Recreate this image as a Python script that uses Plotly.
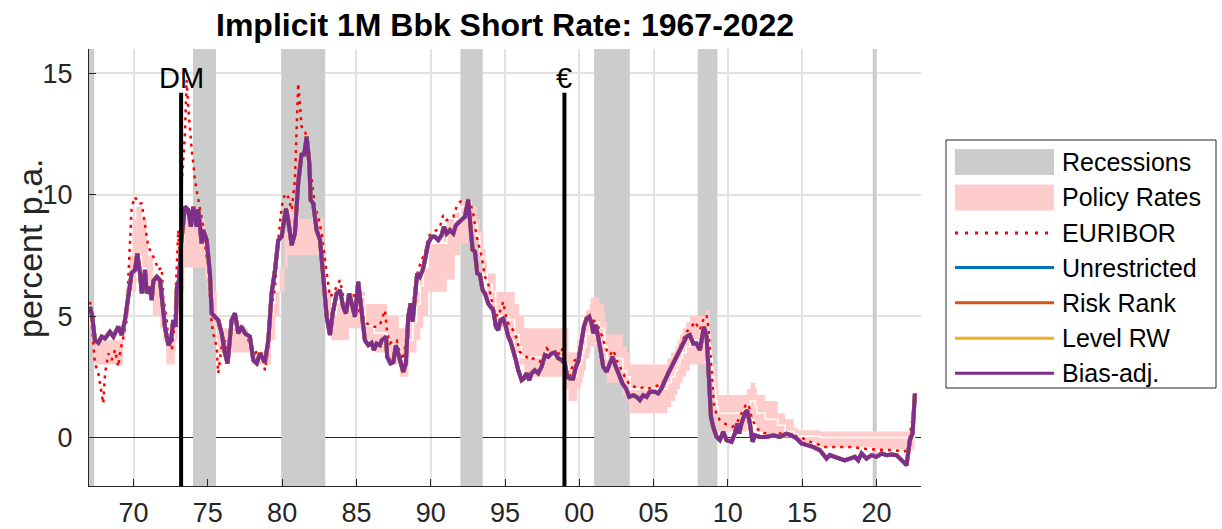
import plotly.graph_objects as go

# ---------------- data ----------------
bias_years = [1967.07, 1967.22, 1967.40, 1967.63, 1967.85, 1968.08, 1968.41, 1968.64, 1968.97, 1969.20,
              1969.42, 1969.64, 1969.87, 1970.10, 1970.25, 1970.43, 1970.55, 1970.77, 1970.88, 1971.10,
              1971.22, 1971.33, 1971.56, 1971.78, 1971.93, 1972.11, 1972.34, 1972.52, 1972.67, 1972.83,
              1972.92, 1973.06, 1973.20, 1973.46, 1973.68, 1973.86, 1974.02, 1974.25, 1974.36, 1974.58,
              1974.69, 1974.92, 1975.14, 1975.26, 1975.48, 1975.70, 1975.93, 1976.15, 1976.33, 1976.60,
              1976.82, 1977.05, 1977.28, 1977.50, 1977.83, 1978.06, 1978.29, 1978.51, 1978.84, 1979.07,
              1979.29, 1979.52, 1979.74, 1979.97, 1980.26, 1980.41, 1980.64, 1980.86, 1981.08, 1981.31,
              1981.47, 1981.65, 1981.83, 1981.92, 1982.09, 1982.32, 1982.55, 1982.77, 1983.00, 1983.22,
              1983.40, 1983.67, 1983.89, 1984.11, 1984.29, 1984.52, 1984.68, 1984.90, 1985.12, 1985.35,
              1985.57, 1985.80, 1986.02, 1986.18, 1986.36, 1986.58, 1986.70, 1986.99, 1987.07, 1987.30,
              1987.48, 1987.66, 1987.81, 1987.98, 1988.15, 1988.33, 1988.49, 1988.65, 1988.78, 1988.94,
              1989.09, 1989.27, 1989.46, 1989.61, 1989.83, 1990.06, 1990.28, 1990.51, 1990.73, 1990.89,
              1991.07, 1991.29, 1991.52, 1991.70, 1991.97, 1992.30, 1992.52, 1992.69, 1992.82, 1992.98,
              1993.13, 1993.31, 1993.49, 1993.65, 1993.87, 1994.03, 1994.21, 1994.39, 1994.54, 1994.70,
              1994.88, 1995.06, 1995.22, 1995.38, 1995.55, 1995.73, 1995.89, 1996.12, 1996.27, 1996.45,
              1996.63, 1996.79, 1997.01, 1997.24, 1997.46, 1997.69, 1997.91, 1998.14, 1998.36, 1998.58,
              1998.81, 1999.03, 1999.19, 1999.37, 1999.59, 1999.77, 1999.93, 2000.16, 2000.31, 2000.49,
              2000.67, 2000.83, 2000.94, 2001.12, 2001.27, 2001.43, 2001.61, 2001.84, 2002.06, 2002.24,
              2002.46, 2002.69, 2002.91, 2003.14, 2003.36, 2003.63, 2003.86, 2004.08, 2004.30, 2004.53,
              2004.75, 2005.09, 2005.31, 2005.54, 2005.76, 2005.98, 2006.21, 2006.55, 2006.88, 2007.22,
              2007.44, 2007.67, 2007.89, 2008.12, 2008.39, 2008.57, 2008.72, 2008.86, 2009.01, 2009.24,
              2009.46, 2009.69, 2009.91, 2010.25, 2010.47, 2010.63, 2010.76, 2010.92, 2011.15, 2011.30,
              2011.48, 2011.66, 2011.82, 2012.15, 2012.60, 2013.05, 2013.50, 2013.95, 2014.28, 2014.62,
              2014.96, 2015.29, 2015.74, 2016.19, 2016.64, 2016.86, 2017.20, 2017.54, 2017.87, 2018.21,
              2018.55, 2018.77, 2019.00, 2019.33, 2019.67, 2020.00, 2020.34, 2020.68, 2021.02, 2021.35,
              2021.69, 2022.03, 2022.25, 2022.43, 2022.59]
bias_vals = [5.38, 4.97, 4.00, 3.90, 4.15, 4.08, 4.35, 4.15, 4.56, 4.22,
             4.83, 5.93, 6.77, 6.90, 7.58, 6.77, 5.94, 6.90, 5.94, 6.20,
             5.66, 6.44, 6.62, 6.48, 5.52, 4.56, 3.80, 4.00, 4.83, 4.56,
             6.20, 6.48, 8.00, 9.50, 9.37, 8.68, 9.50, 8.68, 9.40, 7.99,
             8.54, 8.13, 6.76, 5.11, 4.97, 4.83, 4.29, 3.46, 3.05, 4.83,
             5.11, 4.29, 4.56, 4.29, 4.15, 3.19, 3.05, 3.46, 3.10, 4.00,
             5.93, 6.90, 8.13, 8.27, 9.43, 8.95, 7.92, 8.40, 10.47, 11.70,
             11.60, 12.39, 11.29, 9.78, 9.64, 8.54, 8.13, 6.76, 4.97, 4.22,
             5.11, 5.93, 6.07, 5.38, 5.11, 5.93, 5.52, 4.97, 6.41, 5.11,
             4.00, 3.80, 3.90, 3.60, 3.87, 3.80, 4.00, 4.15, 3.32, 3.05,
             3.10, 3.80, 3.46, 3.19, 2.70, 3.05, 4.97, 5.52, 4.76, 5.79,
             6.76, 6.62, 6.90, 7.31, 7.99, 8.27, 8.27, 8.13, 8.33, 8.68,
             8.40, 8.54, 8.40, 8.75, 8.88, 9.09, 9.78, 8.68, 7.72, 7.65,
             6.76, 6.70, 6.07, 5.93, 5.52, 5.38, 5.24, 4.56, 4.42, 4.83,
             4.90, 4.56, 4.15, 3.94, 3.60, 3.19, 2.77, 2.36, 2.43, 2.64,
             2.36, 2.64, 2.77, 2.64, 2.91, 3.39, 3.32, 3.46, 3.50, 3.26,
             3.19, 3.05, 2.50, 2.43, 2.43, 2.91, 3.12, 3.87, 4.56, 4.90,
             4.97, 4.70, 4.29, 4.63, 4.22, 3.60, 2.91, 2.70, 3.05, 3.32,
             2.91, 2.50, 2.22, 2.02, 1.67, 1.74, 1.67, 1.54, 1.74, 1.67,
             1.88, 1.88, 1.81, 2.02, 2.36, 2.64, 2.91, 3.32, 3.73, 4.15,
             4.22, 3.87, 3.87, 3.60, 4.56, 4.15, 2.50, 0.85, 0.44, 0.02,
             -0.11, 0.23, -0.11, -0.18, 0.16, 0.58, 0.16, 0.58, 0.99, 1.12,
             0.58, -0.18, 0.09, 0.02, 0.02, 0.09, 0.02, 0.16, 0.09, -0.04,
             -0.25, -0.30, -0.39, -0.52, -0.87, -0.73, -0.80, -0.87, -0.94, -0.87,
             -0.80, -0.94, -0.66, -0.87, -0.73, -0.80, -0.66, -0.73, -0.70, -0.73,
             -0.94, -1.14, -0.11, 0.16, 1.81]

# the three other model variants lie underneath the bias-adjusted line
unrestricted_vals = list(bias_vals)
risk_rank_vals = list(bias_vals)
level_rw_vals = list(bias_vals)

euribor_years = [1967.07, 1967.29, 1967.40, 1967.63, 1967.74, 1967.96, 1968.08, 1968.30, 1968.53, 1968.75,
                 1968.97, 1969.08, 1969.31, 1969.54, 1969.64, 1969.87, 1970.10, 1970.32, 1970.55, 1970.77,
                 1970.99, 1971.22, 1971.44, 1971.66, 1971.89, 1972.00, 1972.23, 1972.34, 1972.57, 1972.74,
                 1972.90, 1973.01, 1973.12, 1973.25, 1973.46, 1973.57, 1973.68, 1973.79, 1973.91, 1974.02,
                 1974.13, 1974.36, 1974.54, 1974.69, 1974.85, 1975.03, 1975.21, 1975.36, 1975.59, 1975.70,
                 1975.93, 1976.15, 1976.37, 1976.60, 1976.82, 1977.05, 1977.28, 1977.50, 1977.72, 1977.95,
                 1978.17, 1978.39, 1978.62, 1978.84, 1979.07, 1979.29, 1979.52, 1979.74, 1979.97, 1980.19,
                 1980.41, 1980.64, 1980.86, 1981.08, 1981.19, 1981.31, 1981.54, 1981.76, 1981.99, 1982.21,
                 1982.43, 1982.66, 1982.88, 1983.04, 1983.22, 1983.44, 1983.67, 1983.89, 1984.11, 1984.34,
                 1984.56, 1984.78, 1985.01, 1985.24, 1985.46, 1985.69, 1985.91, 1986.13, 1986.36, 1986.58,
                 1986.92, 1987.07, 1987.26, 1987.48, 1987.71, 1987.93, 1988.15, 1988.33, 1988.49, 1988.72,
                 1988.94, 1989.16, 1989.39, 1989.61, 1989.83, 1990.06, 1990.40, 1990.62, 1990.84, 1991.07,
                 1991.29, 1991.52, 1991.74, 1991.97, 1992.30, 1992.52, 1992.69, 1992.86, 1993.09, 1993.43,
                 1993.65, 1993.87, 1994.10, 1994.32, 1994.54, 1994.88, 1995.11, 1995.33, 1995.55, 1995.78,
                 1996.00, 1996.23, 1996.45, 1996.68, 1996.90, 1997.13, 1997.35, 1997.57, 1997.80, 1998.02,
                 1998.25, 1998.47, 1998.70, 1998.87, 1999.15, 1999.37, 1999.59, 1999.82, 2000.04, 2000.26,
                 2000.49, 2000.71, 2000.94, 2001.16, 2001.39, 2001.61, 2001.84, 2002.06, 2002.29, 2002.51,
                 2002.73, 2003.07, 2003.40, 2003.74, 2004.08, 2004.42, 2004.75, 2005.09, 2005.54, 2005.88,
                 2006.21, 2006.55, 2006.88, 2007.22, 2007.56, 2007.78, 2008.12, 2008.34, 2008.57, 2008.68,
                 2008.84, 2008.95, 2009.06, 2009.24, 2009.46, 2009.73, 2010.02, 2010.32, 2010.59, 2010.81,
                 2011.03, 2011.26, 2011.43, 2011.59, 2011.82, 2012.15, 2012.60, 2013.05, 2013.50, 2013.95,
                 2014.40, 2014.73, 2015.07, 2015.52, 2015.97, 2016.41, 2017.09, 2017.76, 2018.43, 2019.10,
                 2019.78, 2020.45, 2021.12, 2021.80, 2022.14, 2022.36, 2022.59]
euribor_vals = [5.59, 4.00, 3.05, 2.64, 2.23, 1.40, 2.64, 3.46, 3.19, 3.60,
                2.91, 3.46, 4.15, 4.83, 6.48, 9.50, 9.91, 9.64, 9.64, 8.68,
                7.85, 7.58, 7.31, 6.90, 7.00, 5.79, 4.83, 4.00, 3.60, 4.56,
                7.31, 8.54, 7.00, 10.50, 12.53, 14.72, 13.62, 12.53, 11.84, 11.29,
                10.60, 9.78, 9.23, 8.68, 7.72, 7.04, 4.97, 4.29, 3.73, 2.64,
                3.73, 4.00, 3.46, 4.97, 4.83, 4.70, 4.56, 4.29, 4.00, 3.73,
                3.46, 3.60, 3.46, 2.77, 3.73, 5.38, 6.20, 8.13, 9.50, 10.05,
                9.91, 9.37, 10.60, 14.59, 13.60, 12.80, 12.66, 11.84, 10.60, 9.50,
                9.09, 8.40, 7.31, 6.48, 5.79, 5.93, 6.20, 6.48, 5.79, 5.79,
                5.93, 5.93, 5.52, 5.11, 4.97, 4.70, 4.63, 4.56, 4.56, 4.63,
                5.24, 4.29, 3.87, 4.00, 4.00, 3.46, 3.19, 4.00, 5.24, 4.83,
                6.20, 6.90, 7.31, 7.58, 8.27, 8.40, 8.54, 8.68, 9.16, 8.95,
                9.02, 9.09, 9.50, 9.71, 9.78, 9.78, 9.60, 9.23, 8.27, 7.44,
                6.62, 6.35, 5.66, 5.11, 4.97, 5.59, 4.83, 4.56, 4.42, 4.08,
                3.53, 3.39, 3.32, 3.19, 3.26, 3.19, 3.12, 3.32, 3.67, 3.53,
                3.46, 3.60, 3.39, 3.67, 2.77, 2.50, 3.05, 3.30, 3.60, 4.56,
                4.90, 5.04, 4.83, 4.70, 4.42, 4.01, 3.60, 3.39, 3.60, 3.19,
                2.91, 2.50, 2.15, 2.09, 2.02, 2.09, 2.02, 2.09, 2.22, 2.50,
                2.91, 3.32, 3.87, 4.35, 4.56, 4.77, 4.42, 4.84, 5.04, 4.56,
                3.32, 2.22, 1.40, 0.92, 0.72, 0.58, 0.51, 0.44, 0.58, 0.85,
                1.12, 1.40, 1.26, 0.85, 0.51, 0.23, 0.16, 0.09, 0.16, 0.16,
                0.09, 0.02, -0.04, -0.18, -0.25, -0.39, -0.39, -0.39, -0.39, -0.46,
                -0.50, -0.52, -0.52, -0.59, -0.52, 0.58, 1.12]

# policy-rate corridor: floor (discount / deposit rate) and ceiling (Lombard / marginal lending)
policy_dates = [1967.00, 1967.13, 1967.30, 1967.38, 1969.30, 1969.46, 1969.70, 1969.93, 1970.18, 1970.55,
                1970.88, 1970.97, 1971.30, 1971.79, 1971.98, 1972.20, 1972.77, 1972.83, 1972.97, 1973.04,
                1973.34, 1973.42, 1974.82, 1974.96, 1975.10, 1975.20, 1975.40, 1975.60, 1975.70, 1977.70,
                1977.96, 1979.05, 1979.25, 1979.45, 1979.54, 1979.83, 1980.16, 1980.39, 1981.15, 1982.65,
                1982.80, 1982.93, 1983.30, 1983.70, 1984.50, 1985.08, 1985.60, 1986.20, 1987.06, 1987.85,
                1987.92, 1988.50, 1988.58, 1988.93, 1989.05, 1989.30, 1989.50, 1989.83, 1990.87, 1991.08,
                1991.62, 1991.97, 1992.54, 1992.71, 1993.10, 1993.21, 1993.30, 1993.55, 1993.69, 1993.80,
                1994.13, 1994.37, 1995.24, 1995.65, 1995.96, 1996.30, 1999.00, 1999.27, 1999.85, 2000.10,
                2000.22, 2000.32, 2000.45, 2000.68, 2000.76, 2001.36, 2001.67, 2001.72, 2001.86, 2002.93,
                2003.18, 2003.43, 2005.93, 2006.19, 2006.45, 2006.61, 2006.78, 2006.95, 2007.20, 2007.45,
                2008.52, 2008.77, 2008.86, 2008.95, 2009.05, 2009.19, 2009.27, 2009.36, 2011.28, 2011.52,
                2011.85, 2011.95, 2012.52, 2013.35, 2013.85, 2014.44, 2014.69, 2015.94, 2016.21, 2019.71,
                2022.57, 2022.62]
policy_lower = [4.5, 4.0, 3.5, 3.0, 4.0, 5.0, 6.0, 6.0, 7.5, 7.0,
                6.5, 6.0, 5.0, 4.5, 4.0, 3.0, 3.5, 4.0, 4.5, 5.0,
                6.0, 7.0, 6.5, 6.0, 5.5, 5.0, 4.5, 4.0, 3.5, 3.5,
                3.0, 3.0, 4.0, 4.0, 5.0, 6.0, 7.0, 7.5, 7.5, 7.0,
                6.0, 5.0, 4.0, 4.0, 4.5, 4.5, 4.0, 3.5, 3.0, 3.0,
                2.5, 3.0, 3.5, 3.5, 4.0, 4.5, 5.0, 6.0, 6.0, 6.5,
                7.5, 8.0, 8.75, 8.25, 8.0, 7.5, 7.25, 6.75, 6.25, 5.75,
                5.25, 4.5, 4.0, 3.5, 3.0, 2.5, 2.0, 1.5, 2.0, 2.25,
                2.5, 2.75, 3.25, 3.5, 3.75, 3.5, 3.25, 2.75, 2.25, 1.75,
                1.5, 1.0, 1.25, 1.5, 1.75, 2.0, 2.25, 2.5, 2.75, 3.0,
                3.25, 3.25, 2.75, 2.0, 1.0, 0.5, 0.25, 0.25, 0.5, 0.75,
                0.5, 0.25, 0.0, 0.0, 0.0, -0.1, -0.2, -0.3, -0.4, -0.5,
                0.0, 0.0]
policy_upper = [5.5, 5.0, 4.5, 4.0, 5.0, 6.0, 7.5, 9.0, 9.5, 9.0,
                8.0, 7.5, 6.5, 5.5, 5.0, 4.0, 5.0, 6.0, 6.5, 7.0,
                8.0, 9.0, 8.5, 8.0, 7.5, 6.5, 6.0, 5.0, 4.5, 4.0,
                3.5, 4.0, 5.0, 5.5, 6.0, 7.0, 8.5, 9.5, 9.0, 9.0,
                8.0, 6.0, 5.0, 5.5, 5.5, 6.0, 5.5, 5.5, 5.0, 4.5,
                4.5, 4.5, 5.0, 5.5, 6.0, 6.5, 7.0, 8.0, 8.5, 9.0,
                9.25, 9.75, 9.75, 9.5, 9.0, 9.0, 8.5, 7.75, 7.25, 6.75,
                6.75, 6.0, 6.0, 5.5, 5.0, 4.5, 4.5, 3.5, 4.0, 4.25,
                4.5, 4.75, 5.25, 5.5, 5.75, 5.5, 5.25, 4.75, 4.25, 3.75,
                3.5, 3.0, 3.25, 3.5, 3.75, 4.0, 4.25, 4.5, 4.75, 5.0,
                5.25, 4.25, 3.75, 3.0, 3.0, 2.5, 2.25, 1.75, 2.0, 2.25,
                2.0, 1.75, 1.5, 1.0, 0.75, 0.4, 0.3, 0.3, 0.25, 0.25,
                0.75, 0.75]

# main refinancing (repo / MRO) rate, drawn as a thin white line inside the corridor
main_rate_dates = [1985.00, 1985.60, 1986.20, 1987.06, 1987.90, 1988.50, 1988.80, 1989.05, 1989.30, 1989.50,
                   1989.83, 1991.08, 1991.62, 1992.00, 1992.54, 1992.71, 1993.10, 1993.30, 1993.55, 1993.80,
                   1994.13, 1994.37, 1995.24, 1995.65, 1995.96, 1996.10, 1998.90, 1999.27, 1999.85, 2000.10,
                   2000.22, 2000.32, 2000.45, 2000.68, 2000.76, 2001.36, 2001.67, 2001.72, 2001.86, 2002.93,
                   2003.18, 2003.43, 2005.93, 2006.19, 2006.45, 2006.61, 2006.78, 2006.95, 2007.20, 2007.45,
                   2008.52, 2008.77, 2008.86, 2008.95, 2009.05, 2009.19, 2009.27, 2009.36, 2011.28, 2011.52,
                   2011.85, 2011.95, 2012.52, 2013.35, 2013.85, 2014.44, 2014.69, 2016.21, 2022.57, 2022.62]
main_rate_vals = [5.8, 4.6, 4.3, 3.8, 3.25, 4.0, 4.75, 5.5, 6.25, 7.0,
                  8.0, 8.5, 9.0, 9.5, 9.7, 8.8, 8.3, 7.5, 6.9, 6.3,
                  6.0, 5.0, 4.85, 4.25, 3.75, 3.3, 3.0, 2.5, 3.0, 3.25,
                  3.5, 3.75, 4.25, 4.5, 4.75, 4.5, 4.25, 3.75, 3.25, 2.75,
                  2.5, 2.0, 2.25, 2.5, 2.75, 3.0, 3.25, 3.5, 3.75, 4.0,
                  4.25, 3.75, 3.25, 2.5, 2.0, 1.5, 1.25, 1.0, 1.25, 1.5,
                  1.25, 1.0, 0.75, 0.5, 0.25, 0.15, 0.05, 0.0, 0.5, 0.5]

rec_start = [1967.00, 1974.00, 1979.95, 1992.00, 2001.00, 2007.97, 2019.75]
rec_end = [1967.35, 1975.55, 1982.90, 1993.50, 2003.40, 2009.30, 2020.00]

regime_dates = [1973.2, 1999.0]
regime_labels = ["DM", "€"]
regime_line_top = 14.2

x_range = [1967, 2023]
y_range = [-2, 16]
xtick_years = [1970, 1975, 1980, 1985, 1990, 1995, 2000, 2005, 2010, 2015, 2020]
xtick_labels = ["70", "75", "80", "85", "90", "95", "00", "05", "10", "15", "20"]
ytick_vals = [0, 5, 10, 15]

series_names = ["Unrestricted", "Risk Rank", "Level RW", "Bias-adj."]
series_colors = ["#0072BD", "#D95319", "#EDB120", "#7E2F8E"]

# ---------------- figure ----------------
FONT = "Liberation Sans, Arial, Helvetica, sans-serif"
W, H = 1222, 529
ML, MR, MT, MB = 89, 301, 49, 43
PW, PH = W - ML - MR, H - MT - MB

fig = go.Figure()

# recessions as filled rectangles
rx, ry = [], []
for s, e in zip(rec_start, rec_end):
    rx += [s, e, e, s, s, None]
    ry += [y_range[0], y_range[0], y_range[1], y_range[1], y_range[0], None]
fig.add_trace(go.Scatter(x=rx, y=ry, mode="lines", fill="toself", fillcolor="#CCCCCC",
                         line=dict(width=0, color="#CCCCCC"), hoverinfo="skip", showlegend=False))

# policy-rate corridor
fig.add_trace(go.Scatter(x=policy_dates, y=policy_lower, mode="lines", line_shape="hv",
                         line=dict(width=0, color="#FFCCCC"), hoverinfo="skip", showlegend=False))
fig.add_trace(go.Scatter(x=policy_dates, y=policy_upper, mode="lines", line_shape="hv",
                         line=dict(width=0, color="#FFCCCC"), fill="tonexty", fillcolor="#FFCCCC",
                         hoverinfo="skip", showlegend=False))
fig.add_trace(go.Scatter(x=main_rate_dates, y=main_rate_vals, mode="lines", line_shape="hv",
                         line=dict(width=1.5, color="white"), hoverinfo="skip", showlegend=False))

# EURIBOR
fig.add_trace(go.Scatter(x=euribor_years, y=euribor_vals, mode="lines",
                         line=dict(width=2.5, color="#FF0000", dash="3px,5px"), showlegend=False))

# model short rates
for name, vals, col in zip(series_names,
                           [unrestricted_vals, risk_rank_vals, level_rw_vals, bias_vals],
                           series_colors):
    fig.add_trace(go.Scatter(x=bias_years, y=vals, mode="lines",
                             line=dict(width=4, color=col), name=name, showlegend=False))

# regime markers (DM, euro)
for d, lab in zip(regime_dates, regime_labels):
    fig.add_trace(go.Scatter(x=[d, d], y=[y_range[0], regime_line_top], mode="lines",
                             line=dict(width=4, color="black"), hoverinfo="skip", showlegend=False))
    fig.add_annotation(x=d, y=regime_line_top, xref="x", yref="y", text=lab, showarrow=False,
                       yanchor="bottom", xanchor="center", yshift=-3,
                       font=dict(family=FONT, size=29, color="black"))

# ---------------- manual legend ----------------
def px(x):
    return (x - ML) / PW

def py(y):
    return (H - MB - y) / PH

shapes = []
shapes.append(dict(type="rect", xref="paper", yref="paper", x0=px(946), x1=px(1216),
                   y0=py(388), y1=py(140), line=dict(color="#262626", width=1), fillcolor="white",
                   layer="above"))
leg_x0, leg_x1, leg_tx = 955, 1054, 1060
leg_items = [("Recessions", "rect", "#CCCCCC", None),
             ("Policy Rates", "rect", "#FFCCCC", None),
             ("EURIBOR", "line", "#FF0000", "3px,7px"),
             ("Unrestricted", "line", series_colors[0], None),
             ("Risk Rank", "line", series_colors[1], None),
             ("Level RW", "line", series_colors[2], None),
             ("Bias-adj.", "line", series_colors[3], None)]
leg_y = [162, 197.5, 233, 267.5, 302.7, 338.3, 373.3]
for (lab, kind, col, dash), yc in zip(leg_items, leg_y):
    if kind == "rect":
        shapes.append(dict(type="rect", xref="paper", yref="paper", x0=px(leg_x0), x1=px(leg_x1),
                           y0=py(yc + 13), y1=py(yc - 13), line=dict(width=0), fillcolor=col,
                           layer="above"))
    else:
        ln = dict(color=col, width=3)
        if dash:
            ln["dash"] = dash
        shapes.append(dict(type="line", xref="paper", yref="paper", x0=px(leg_x0), x1=px(leg_x1),
                           y0=py(yc), y1=py(yc), line=ln, layer="above"))
    fig.add_annotation(x=px(leg_tx), y=py(yc), xref="paper", yref="paper", text=lab,
                       showarrow=False, xanchor="left", yanchor="middle",
                       font=dict(family=FONT, size=25, color="black"))

# y-axis label
fig.add_annotation(x=px(30), y=py(248), xref="paper", yref="paper", text="percent p.a.",
                   textangle=-90, showarrow=False, xanchor="center", yanchor="middle",
                   font=dict(family=FONT, size=34, color="#262626"))

fig.update_layout(
    width=W, height=H,
    margin=dict(l=ML, r=MR, t=MT, b=MB, pad=0, autoexpand=False),
    paper_bgcolor="white", plot_bgcolor="white",
    showlegend=False,
    shapes=shapes,
    title=dict(text="<b>Implicit 1M Bbk Short Rate: 1967-2022</b>", x=(505) / W, xanchor="center",
               y=1 - 25 / H, yanchor="middle", yref="container",
               font=dict(family=FONT, size=32, color="black")),
    xaxis=dict(range=x_range, tickvals=xtick_years, ticktext=xtick_labels, automargin=False,
               showgrid=True, gridcolor="#E2E2E2", gridwidth=2,
               zeroline=False, showline=True, linecolor="#262626", linewidth=1,
               ticks="inside", ticklen=7, tickcolor="#262626", tickwidth=1,
               ticklabelstandoff=3,
               tickfont=dict(family=FONT, size=27, color="#262626")),
    yaxis=dict(range=y_range, tickvals=ytick_vals, automargin=False,
               showgrid=True, gridcolor="#E2E2E2", gridwidth=2,
               zeroline=True, zerolinecolor="#262626", zerolinewidth=1,
               showline=True, linecolor="#262626", linewidth=1,
               ticks="inside", ticklen=7, tickcolor="#262626", tickwidth=1,
               ticklabelstandoff=10,
               tickfont=dict(family=FONT, size=27, color="#262626")),
)

fig.write_html("out.html", config={"displayModeBar": False},
               post_script="document.body.style.margin='0px';document.body.style.overflow='hidden';")
